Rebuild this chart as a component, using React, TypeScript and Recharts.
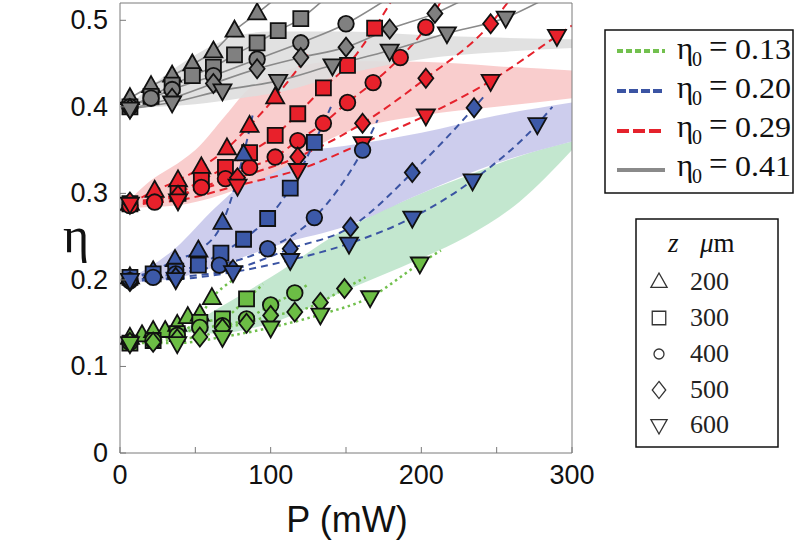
import { ComposedChart, XAxis, YAxis, Scatter, Line, Area } from 'recharts';

type Pt = [number, number];

const X_TICKS = [0, 50, 100, 150, 200, 250, 300];
const Y_TICKS = [0, 0.1, 0.2, 0.3, 0.4, 0.5];

// measured points, [P (mW), eta], one list per z (200, 300, 400, 500, 600 um)
// eta0 = 0.13
const greenTri: Pt[] = [[6.6, 0.133], [14.6, 0.136], [22, 0.141], [30, 0.141], [38, 0.148], [45, 0.157], [53, 0.16], [61, 0.179]];
const greenSq: Pt[] = [[6.6, 0.127], [22, 0.13], [38, 0.138], [53, 0.151], [68, 0.155], [84, 0.178]];
const greenCirc: Pt[] = [[6.6, 0.128], [22, 0.13], [38, 0.136], [53, 0.145], [68, 0.147], [84, 0.155], [100, 0.171], [116, 0.185]];
const greenDia: Pt[] = [[6.6, 0.128], [22, 0.128], [38, 0.132], [53, 0.134], [68, 0.144], [84, 0.15], [100, 0.159], [116, 0.163], [133, 0.174], [149, 0.19]];
const greenInv: Pt[] = [[6.6, 0.127], [38, 0.127], [68, 0.134], [100, 0.145], [133, 0.16], [166, 0.18], [199, 0.219]];
const greenFitEnd: Pt[] = [[75, 0.2], [95, 0.195], [125, 0.195], [163, 0.203], [213, 0.234]];

// eta0 = 0.20
const blueTri: Pt[] = [[6.6, 0.203], [22, 0.21], [36.5, 0.223], [52, 0.234], [68, 0.266], [82, 0.345]];
const blueSq: Pt[] = [[6.6, 0.203], [22, 0.207], [37, 0.21], [52, 0.217], [67, 0.231], [82, 0.247], [98, 0.271], [113, 0.306], [129, 0.359]];
const blueCirc: Pt[] = [[6.6, 0.199], [22, 0.203], [37, 0.207], [66, 0.217], [98, 0.236], [129, 0.272], [161, 0.35]];
const blueDia: Pt[] = [[6.6, 0.198], [37, 0.203], [75, 0.212], [113, 0.236], [153, 0.261], [194, 0.324], [235, 0.399]];
const blueInv: Pt[] = [[6.6, 0.2], [37, 0.201], [75, 0.209], [113, 0.223], [152, 0.242], [194, 0.272], [234, 0.315], [277, 0.38]];
const blueFitEnd: Pt[] = [[88, 0.39], [140, 0.4], [171, 0.385], [243, 0.415], [287, 0.4]];

// eta0 = 0.29
const redTri: Pt[] = [[6.6, 0.288], [23, 0.303], [38.5, 0.315], [54, 0.33], [71, 0.352], [86, 0.378], [103, 0.411]];
const redSq: Pt[] = [[6.6, 0.288], [38.5, 0.3], [54, 0.315], [70, 0.33], [86, 0.347], [103, 0.367], [118, 0.392], [135, 0.422], [151, 0.448], [169, 0.491]];
const redCirc: Pt[] = [[6.6, 0.286], [23, 0.29], [54, 0.307], [70, 0.317], [86, 0.33], [103, 0.342], [118, 0.361], [135, 0.381], [151, 0.405], [168, 0.428], [186, 0.457], [203, 0.492]];
const redDia: Pt[] = [[6.6, 0.29], [38.5, 0.298], [78, 0.318], [118, 0.342], [161, 0.381], [203, 0.433], [246, 0.496]];
const redInv: Pt[] = [[6.6, 0.288], [38.5, 0.292], [78, 0.309], [118, 0.327], [161, 0.358], [203, 0.39], [246, 0.43], [290, 0.482]];
const redFitEnd: Pt[] = [[125, 0.46], [180, 0.522], [213, 0.522], [258, 0.522], [300, 0.494]];

// eta0 = 0.41
const grayTri: Pt[] = [[6.6, 0.41], [20.6, 0.424], [34.6, 0.436], [48, 0.449], [62, 0.464], [76, 0.488], [91, 0.508]];
const graySq: Pt[] = [[6.6, 0.4], [20.6, 0.412], [34.6, 0.425], [48, 0.436], [62, 0.446], [76, 0.46], [91, 0.474], [105, 0.488], [120, 0.502]];
const grayCirc: Pt[] = [[6.6, 0.4], [20.6, 0.41], [34.6, 0.42], [62, 0.436], [91, 0.455], [120, 0.474], [150, 0.496]];
const grayDia: Pt[] = [[6.6, 0.398], [34.6, 0.41], [62, 0.427], [91, 0.444], [120, 0.457], [150, 0.469], [179, 0.49], [209, 0.508]];
const grayInv: Pt[] = [[6.6, 0.398], [34.6, 0.405], [68, 0.419], [105, 0.43], [141, 0.448], [179, 0.465], [217, 0.485], [256, 0.503]];
const grayFitEnd: Pt[] = [[101, 0.522], [134, 0.522], [175, 0.522], [226, 0.522], [279, 0.522]];

// shaded bands
const greenBandP = [40, 63, 100, 146, 200, 230, 265, 300];
const greenBandLo = [0.14, 0.138, 0.15, 0.185, 0.225, 0.25, 0.29, 0.35];
const greenBandHi = [0.14, 0.165, 0.203, 0.255, 0.3, 0.32, 0.343, 0.36];
const blueBandP = [5, 37, 63, 81, 108, 150, 200, 250, 300];
const blueBandLo = [0.197, 0.202, 0.215, 0.226, 0.242, 0.262, 0.3, 0.335, 0.36];
const blueBandHi = [0.2, 0.237, 0.283, 0.311, 0.345, 0.355, 0.37, 0.39, 0.405];
const redBandP = [5, 17, 41, 50, 70, 85, 100, 146, 200, 250, 300];
const redBandLo = [0.283, 0.284, 0.287, 0.29, 0.3, 0.31, 0.322, 0.368, 0.39, 0.4, 0.41];
const redBandHi = [0.29, 0.31, 0.338, 0.35, 0.39, 0.42, 0.435, 0.453, 0.452, 0.447, 0.442];
const grayBandP = [5, 25, 50, 80, 100, 150, 200, 250, 300];
const grayBandLo = [0.397, 0.4, 0.403, 0.41, 0.415, 0.438, 0.455, 0.463, 0.468];
const grayBandHi = [0.4, 0.43, 0.46, 0.483, 0.487, 0.487, 0.483, 0.48, 0.478];

const ETA0_LABELS = ['0.13', '0.20', '0.29', '0.41'];
const Z_LABELS = ['200', '300', '400', '500', '600'];

const AXIS = '#7a7a7a';
const SANS = { fontFamily: '"Liberation Sans"' };
const SERIF = { fontFamily: '"Liberation Serif"' };
const SHAPES = ['tri', 'sq', 'circ', 'dia', 'inv'];

const groups = [
  { fill: '#6cbd45', line: '#72c04e', dash: '2.5 3.5', width: 2.5, band: '#bde4ca', series: [greenTri, greenSq, greenCirc, greenDia, greenInv], ends: greenFitEnd, bp: greenBandP, lo: greenBandLo, hi: greenBandHi },
  { fill: '#e8212b', line: '#e5222c', dash: '8 5', width: 2, band: '#f8c8c8', series: [redTri, redSq, redCirc, redDia, redInv], ends: redFitEnd, bp: redBandP, lo: redBandLo, hi: redBandHi },
  { fill: '#3c59a8', line: '#3b54a3', dash: '7 5', width: 2, band: '#c8c8eb', series: [blueTri, blueSq, blueCirc, blueDia, blueInv], ends: blueFitEnd, bp: blueBandP, lo: blueBandLo, hi: blueBandHi },
  { fill: '#808080', line: '#8a8a8a', dash: undefined, width: 1.6, band: '#dedede', series: [grayTri, graySq, grayCirc, grayDia, grayInv], ends: grayFitEnd, bp: grayBandP, lo: grayBandLo, hi: grayBandHi },
];
// bands are painted green, blue, red, gray
const bandOrder = [0, 2, 1, 3];

function markerPath(kind: string, cx: number, cy: number, s: number) {
  switch (kind) {
    case 'tri':
      return `M${cx},${cy - 10 * s}L${cx + 9 * s},${cy + 6 * s}L${cx - 9 * s},${cy + 6 * s}Z`;
    case 'inv':
      return `M${cx - 9 * s},${cy - 6 * s}L${cx + 9 * s},${cy - 6 * s}L${cx},${cy + 10 * s}Z`;
    case 'sq':
      return `M${cx - 7.5 * s},${cy - 7.5 * s}h${15 * s}v${15 * s}h${-15 * s}Z`;
    case 'dia':
      return `M${cx},${cy - 9.5 * s}L${cx + 7.5 * s},${cy}L${cx},${cy + 9.5 * s}L${cx - 7.5 * s},${cy}Z`;
    default:
      return '';
  }
}

const makeShape = (kind: string, fill: string) => (props: any) => {
  const { cx, cy } = props;
  if (cx == null || cy == null) return <g />;
  if (kind === 'circ') return <circle cx={cx} cy={cy} r={7.8} fill={fill} stroke="#111" strokeWidth={1.8} />;
  return <path d={markerPath(kind, cx, cy, 1)} fill={fill} stroke="#111" strokeWidth={1.8} strokeLinejoin="miter" />;
};

const toXY = (pts: Pt[]) => pts.map(([x, y]) => ({ x, y }));
const toBand = (p: number[], lo: number[], hi: number[]) => p.map((x, i) => ({ x, band: [lo[i], hi[i]] }));

function BottomTick(props: any) {
  const { x, y, payload } = props;
  const v = payload.value;
  return (
    <g>
      <line x1={x} y1={y} x2={x} y2={y - 6} stroke={AXIS} />
      {v % 100 === 0 && (
        <text x={x} y={y + 31} textAnchor="middle" style={SANS} fontSize={27} fill="#111">
          {v}
        </text>
      )}
    </g>
  );
}

function LeftTick(props: any) {
  const { x, y, payload } = props;
  const v = payload.value;
  return (
    <g>
      <line x1={x} y1={y} x2={x + 6} y2={y} stroke={AXIS} />
      <text x={x - 12} y={y + 9} textAnchor="end" style={SANS} fontSize={27} fill="#111">
        {v === 0 ? '0' : v.toFixed(1)}
      </text>
    </g>
  );
}

function TopTick(props: any) {
  const { x, y } = props;
  return <line x1={x} y1={y} x2={x} y2={y + 6} stroke={AXIS} />;
}

function RightTick(props: any) {
  const { x, y } = props;
  return <line x1={x} y1={y} x2={x - 6} y2={y} stroke={AXIS} />;
}

function Legends() {
  const lineRows = [51, 91, 131, 170];
  const textRows = [59, 98, 137, 176];
  const legendDash = ['6 3', '9 3', '12 4', undefined];
  const legendColor = ['#72c04e', '#3b54a3', '#e5222c', '#8a8a8a'];
  const zRows = [290, 326, 362, 398, 433];
  return (
    <svg width={795} height={545} style={{ position: 'absolute', left: 0, top: 0, pointerEvents: 'none' }}>
      <rect x={605} y={30} width={188} height={163} fill="#fff" stroke="#111" strokeWidth={1.5} />
      {ETA0_LABELS.map((lab, i) => (
        <g key={lab}>
          <line x1={617} x2={665} y1={lineRows[i]} y2={lineRows[i]} stroke={legendColor[i]} strokeWidth={4} strokeDasharray={legendDash[i]} />
          <text x={677} y={textRows[i]} style={SERIF} fontSize={31} fill="#111">η</text>
          <text x={692} y={textRows[i] + 7} style={SERIF} fontSize={20} fill="#111">0</text>
          <text x={709} y={textRows[i] - 1} style={SERIF} fontSize={33} fill="#111">=</text>
          <text x={735} y={textRows[i]} style={SERIF} fontSize={29} fill="#111" textLength={56} lengthAdjust="spacingAndGlyphs">
            {lab}
          </text>
        </g>
      ))}

      <rect x={636} y={219} width={142} height={228} fill="#fff" stroke="#111" strokeWidth={1.5} />
      <text x={668} y={252} style={SERIF} fontStyle="italic" fontSize={27} fill="#111">z</text>
      <text x={700} y={252} style={SERIF} fontSize={27} fill="#111">
        <tspan fontStyle="italic">μ</tspan>m
      </text>
      {Z_LABELS.map((lab, i) => {
        const cy = zRows[i] - 8;
        const kind = SHAPES[i];
        return (
          <g key={lab}>
            {kind === 'circ' ? (
              <circle cx={659} cy={cy} r={5} fill="#fff" stroke="#333" strokeWidth={1.3} />
            ) : (
              <path d={markerPath(kind, 659, cy, 0.9)} fill="#fff" stroke="#333" strokeWidth={1.3} />
            )}
            <text x={690} y={zRows[i]} style={SERIF} fontSize={26} fill="#222">
              {lab}
            </text>
          </g>
        );
      })}
    </svg>
  );
}

export default function App() {
  return (
    <div style={{ position: 'absolute', left: 0, top: 0, width: 795, height: 545, background: '#fff' }}>
      <ComposedChart width={795} height={545} margin={{ top: 2, right: 222, bottom: 0, left: 0 }}>
        <XAxis
          dataKey="x"
          type="number"
          domain={[0, 300]}
          ticks={X_TICKS}
          interval={0}
          allowDataOverflow
          height={92}
          tickSize={0}
          tickMargin={0}
          stroke={AXIS}
          tick={<BottomTick />}
        />
        <XAxis xAxisId="top" orientation="top" type="number" domain={[0, 300]} ticks={X_TICKS} interval={0} height={1} tickSize={0} tickMargin={0} stroke={AXIS} tick={<TopTick />} />
        <YAxis
          type="number"
          domain={[0, 0.52]}
          ticks={Y_TICKS}
          interval={0}
          allowDataOverflow
          width={120}
          tickSize={0}
          tickMargin={0}
          stroke={AXIS}
          tick={<LeftTick />}
        />
        <YAxis yAxisId="right" orientation="right" type="number" domain={[0, 0.52]} ticks={Y_TICKS} interval={0} width={1} tickSize={0} tickMargin={0} stroke={AXIS} tick={<RightTick />} />

        {bandOrder.map((gi) => {
          const g = groups[gi];
          return (
            <Area
              key={`band-${gi}`}
              data={toBand(g.bp, g.lo, g.hi)}
              dataKey="band"
              type="monotone"
              stroke="none"
              fill={g.band}
              fillOpacity={0.9}
              isAnimationActive={false}
            />
          );
        })}

        {groups.map((g, gi) =>
          g.series.map((pts, si) => (
            <Line
              key={`fit-${gi}-${si}`}
              data={toXY([...pts, g.ends[si]])}
              dataKey="y"
              type="monotone"
              stroke={g.line}
              strokeWidth={g.width}
              strokeDasharray={g.dash}
              dot={false}
              activeDot={false}
              isAnimationActive={false}
            />
          ))
        )}

        {groups.map((g, gi) =>
          g.series.map((pts, si) => (
            <Scatter
              key={`pts-${gi}-${si}`}
              data={toXY(pts)}
              dataKey="y"
              shape={makeShape(SHAPES[si], g.fill)}
              isAnimationActive={false}
            />
          ))
        )}
      </ComposedChart>

      <svg width={795} height={545} style={{ position: 'absolute', left: 0, top: 0, pointerEvents: 'none' }}>
        <text x={76} y={252} textAnchor="middle" style={SERIF} fontSize={50} fill="#111">η</text>
        <text x={347} y={532} textAnchor="middle" style={SANS} fontSize={36} fill="#111">P (mW)</text>
      </svg>
      <Legends />
    </div>
  );
}
